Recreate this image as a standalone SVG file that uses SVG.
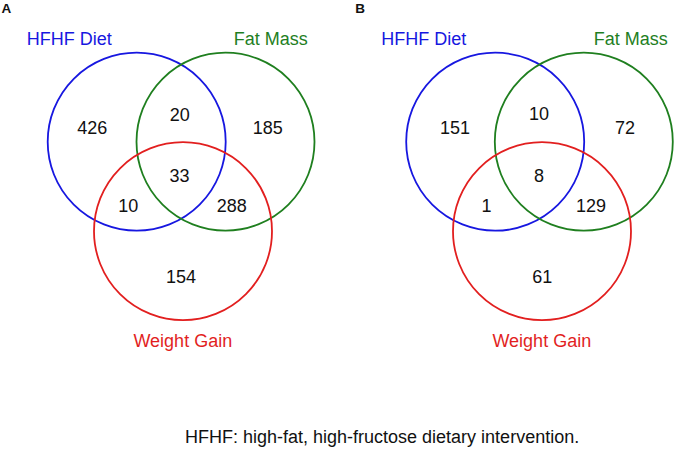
<svg xmlns="http://www.w3.org/2000/svg" width="674" height="450" viewBox="0 0 674 450">
<style>
text{font-family:"Liberation Sans",Arial,sans-serif;font-size:18px;fill:#111;text-anchor:middle}
.c{fill:none;stroke-width:1.8}
.blue{stroke:#1717e0}
.green{stroke:#1f7f1f}
.red{stroke:#e21f1f}
.tb{fill:#1717e0}
.tg{fill:#1f7f1f}
.tr{fill:#e21f1f}
.panel{font-weight:bold;font-size:13.5px;text-anchor:start}
.note{text-anchor:start}
</style>
<rect width="674" height="450" fill="#fff"/>
<g id="panelA">
<text class="panel" x="1.5" y="12.7">A</text>
<g id="A-hfhf"><circle class="c blue" cx="136.7" cy="141.7" r="89"/><text class="tb" x="69.2" y="45">HFHF Diet</text></g>
<g id="A-fat"><circle class="c green" cx="225.5" cy="141.7" r="89"/><text class="tg" x="270.7" y="45">Fat Mass</text></g>
<g id="A-weight"><circle class="c red" cx="183" cy="231.2" r="89"/><text class="tr" x="182.8" y="346.5">Weight Gain</text></g>
<g id="A-counts">
<text x="92.2" y="134.3">426</text>
<text x="179.7" y="120.7">20</text>
<text x="267.7" y="134.3">185</text>
<text x="179.5" y="181.7">33</text>
<text x="128.3" y="211.7">10</text>
<text x="231.8" y="211.7">288</text>
<text x="181" y="282.7">154</text>
</g>
</g>
<g id="panelB">
<text class="panel" x="355.3" y="12.7">B</text>
<g id="B-hfhf"><circle class="c blue" cx="495.2" cy="141.7" r="89"/><text class="tb" x="423.7" y="45">HFHF Diet</text></g>
<g id="B-fat"><circle class="c green" cx="583.8" cy="141.7" r="89"/><text class="tg" x="630.8" y="45">Fat Mass</text></g>
<g id="B-weight"><circle class="c red" cx="542" cy="231.2" r="89"/><text class="tr" x="541.8" y="346.5">Weight Gain</text></g>
<g id="B-counts">
<text x="455" y="134.3">151</text>
<text x="539" y="119.5">10</text>
<text x="625" y="134.3">72</text>
<text x="539" y="181.7">8</text>
<text x="486.5" y="211.7">1</text>
<text x="591" y="211.7">129</text>
<text x="542.2" y="282.7">61</text>
</g>
</g>
<g id="connectors"></g>
<text class="note" x="185" y="443">HFHF: high-fat, high-fructose dietary intervention.</text>
</svg>
